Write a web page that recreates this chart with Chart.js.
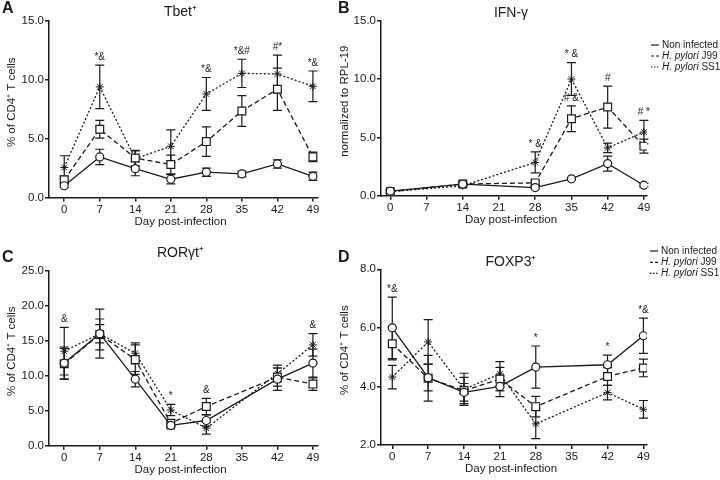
<!DOCTYPE html>
<html>
<head>
<meta charset="utf-8">
<script src="https://cdn.jsdelivr.net/npm/chart.js@4.4.1/dist/chart.umd.min.js"></script>
<style>
  body { margin: 0; background: #fff; width: 720px; height: 480px; position: relative; overflow: hidden; }
  canvas { position: absolute; }
</style>
</head>
<body>
<canvas id="chartA" style="left:0;top:0" width="360" height="240"></canvas>
<canvas id="chartB" style="left:330px;top:0" width="390" height="240"></canvas>
<canvas id="chartC" style="left:0;top:240px" width="360" height="240"></canvas>
<canvas id="chartD" style="left:330px;top:240px" width="390" height="240"></canvas>
<script>
// Data
const dayTicks = [0, 7, 14, 21, 28, 35, 42, 49];
const seriesNames = ['Non infected', 'H. pylori J99', 'H. pylori SS1'];

// A - Tbet+
const tbetDays = [0, 7, 14, 21, 28, 35, 42, 49];
const tbetNon = [1.0, 3.45, 2.45, 1.55, 2.15, 2.0, 2.85, 1.8];
const tbetNonErr = [0.15, 0.65, 0.6, 0.4, 0.35, 0.25, 0.35, 0.35];
const tbetJ99 = [1.5, 5.8, 3.35, 2.8, 4.75, 7.35, 9.2, 3.45];
const tbetJ99Err = [0.3, 0.75, 0.65, 0.8, 1.25, 1.3, 1.8, 0.4];
const tbetSS1 = [2.55, 9.4, 3.3, 4.35, 8.8, 10.55, 10.5, 9.45];
const tbetSS1Err = [1.0, 1.85, 0.65, 1.4, 1.4, 1.2, 1.6, 1.3];
const tbetTicks = [0, 5, 10, 15];
const tbetMarks = [[7, 2, '*&'], [28, 2, '*&'], [35, 2, '*&#'], [42, 2, '#*'], [49, 2, '*&']];

// B - IFN-g
const ifnDays = [0, 14, 28, 35, 42, 49];
const ifnNon = [0.4, 1.0, 0.7, 1.45, 2.75, 0.9];
const ifnNonErr = [0.1, 0.1, 0.1, 0.1, 0.65, 0.15];
const ifnJ99 = [0.35, 1.0, 1.1, 6.6, 7.6, 4.25];
const ifnJ99Err = [0.15, 0.15, 0.2, 1.1, 1.8, 0.6];
const ifnSS1 = [0.35, 0.85, 2.85, 10.0, 4.1, 5.45];
const ifnSS1Err = [0.1, 0.1, 0.9, 1.4, 0.4, 1.0];
const ifnTicks = [0, 5, 10, 15];
const ifnMarks = [[28, 2, '* &'], [35, 2, '* &'], [35, 1, '# &'], [42, 1, '#'], [49, 2, '# *']];

// C - RORgt+
const rorDays = [0, 7, 14, 21, 28, 42, 49];
const rorNon = [11.8, 16.0, 9.5, 2.9, 3.6, 9.5, 11.8];
const rorNonErr = [2.3, 1.3, 1.1, 0.5, 0.8, 1.6, 2.0];
const rorJ99 = [11.7, 15.9, 12.3, 3.2, 5.6, 9.8, 8.8];
const rorJ99Err = [2.2, 2.2, 2.1, 0.5, 1.15, 1.3, 0.9];
const rorSS1 = [13.5, 16.0, 13.2, 5.1, 2.5, 10.3, 14.4];
const rorSS1Err = [3.4, 3.5, 1.5, 0.8, 0.85, 1.2, 1.6];
const rorTicks = [0, 5, 10, 15, 20, 25];
const rorMarks = [[0, 2, '&'], [21, 2, '*'], [28, 1, '&'], [49, 2, '&']];

// D - FOXP3+
const foxDays = [0, 7, 14, 21, 28, 42, 49];
const foxNon = [6.0, 4.3, 3.8, 4.0, 4.66, 4.74, 5.73];
const foxNonErr = [1.05, 0.45, 0.3, 0.35, 0.72, 0.33, 0.6];
const foxJ99 = [5.46, 4.28, 3.86, 4.25, 3.31, 4.34, 4.63];
const foxJ99Err = [0.55, 0.78, 0.45, 0.4, 0.35, 0.3, 0.3];
const foxSS1 = [4.32, 5.52, 3.9, 4.43, 2.72, 3.79, 3.22];
const foxSS1Err = [0.4, 0.76, 0.55, 0.42, 0.5, 0.25, 0.3];
const foxTicks = [2, 4, 6, 8];
const foxMarks = [[0, 0, '*&'], [28, 0, '*'], [42, 0, '*'], [49, 0, '*&']];

// Styles
const ink = '#1a1a1a';
const family = '"Liberation Sans", Arial, sans-serif';
const styles = [
    { dash: [], point: 'circle', r: 4, bw: 1.2 },
    { dash: [5, 3], point: 'rect', r: 5.5, bw: 1.2 },
    { dash: [2, 2], point: 'star', r: 4, bw: 1 }
];

// Error bars, titles, annotations, legend
function makeDecor(p) {
    return {
        id: 'decor',
        beforeDatasetsDraw(chart) {
            const { ctx, scales: { x, y } } = chart;
            ctx.save();
            ctx.strokeStyle = ink;
            ctx.lineWidth = 1.2;
            ctx.setLineDash([]);
            chart.data.datasets.forEach(ds => {
                ds.data.forEach((pt, i) => {
                    const e = ds.err[i];
                    const px = x.getPixelForValue(pt.x);
                    const top = y.getPixelForValue(pt.y + e);
                    const bot = y.getPixelForValue(pt.y - e);
                    ctx.beginPath();
                    ctx.moveTo(px, top); ctx.lineTo(px, bot);
                    ctx.moveTo(px - 4.5, top); ctx.lineTo(px + 4.5, top);
                    ctx.moveTo(px - 4.5, bot); ctx.lineTo(px + 4.5, bot);
                    ctx.stroke();
                });
            });
            ctx.restore();
        },
        afterDraw(chart) {
            const { ctx, chartArea: a, scales: { x, y } } = chart;
            const cx = (a.left + a.right) / 2 - 3;
            ctx.save();
            ctx.fillStyle = ink;
            ctx.textBaseline = 'middle';

            // Panel letter
            ctx.font = 'bold 16px ' + family;
            ctx.textAlign = 'left';
            ctx.fillText(p.letter, p.letterX, p.letterY);

            // Panel title
            ctx.font = '14px ' + family;
            ctx.textAlign = 'center';
            ctx.fillText(p.title, cx, p.titleY);

            // Axis titles
            ctx.font = '11.5px ' + family;
            ctx.fillText('Day post-infection', cx, a.bottom + 24);
            ctx.save();
            ctx.translate(p.yTitleX, (a.top + a.bottom) / 2 - 7);
            ctx.rotate(-Math.PI / 2);
            ctx.fillText(p.yTitle, 0, 0);
            ctx.restore();

            // Significance marks
            ctx.font = '10px ' + family;
            p.marks.forEach(([day, k, text]) => {
                const i = p.days.indexOf(day);
                const top = p.values[k][i] + p.errors[k][i];
                ctx.fillText(text, x.getPixelForValue(day), y.getPixelForValue(top) - 8);
            });

            // Legend
            if (p.legend) {
                ctx.strokeStyle = ink;
                ctx.lineWidth = 1.2;
                ctx.textAlign = 'left';
                seriesNames.forEach((name, k) => {
                    const ly = p.legend.y[k];
                    ctx.setLineDash(k === 0 ? [] : (k === 1 ? [3, 2] : [1.5, 1.5]));
                    ctx.beginPath();
                    ctx.moveTo(p.legend.x, ly); ctx.lineTo(p.legend.x + 8, ly);
                    ctx.stroke();
                    ctx.setLineDash([]);
                    let tx = p.legend.x + 11;
                    if (k === 0) {
                        ctx.font = '10px ' + family;
                        ctx.fillText(name, tx, ly);
                    } else {
                        const [genus, strain] = [name.slice(0, 9), name.slice(9)];
                        ctx.font = 'italic 10px ' + family;
                        ctx.fillText(genus, tx, ly);
                        tx += ctx.measureText(genus).width;
                        ctx.font = '10px ' + family;
                        ctx.fillText(strain, tx, ly);
                    }
                });
            }
            ctx.restore();
        }
    };
}

function makePanel(id, p) {
    const datasets = styles.map((s, k) => ({
        label: seriesNames[k],
        data: p.days.map((d, i) => ({ x: d, y: p.values[k][i] })),
        err: p.errors[k],
        borderColor: ink,
        borderWidth: 1.3,
        borderDash: s.dash,
        pointStyle: s.point,
        pointRadius: s.r,
        pointBorderWidth: s.bw,
        pointBorderColor: ink,
        pointBackgroundColor: '#fff',
        tension: 0,
        fill: false
    }));
    const tickFont = { family: family, size: 11.5 };
    return new Chart(document.getElementById(id), {
        type: 'line',
        data: { datasets },
        options: {
            responsive: false,
            animation: false,
            events: [],
            layout: { padding: { left: 0, top: p.area.top, right: p.w - p.area.right, bottom: 0 } },
            plugins: { legend: { display: false }, tooltip: { enabled: false } },
            scales: {
                x: {
                    type: 'linear',
                    min: p.xMin,
                    max: p.xMax,
                    afterBuildTicks: s => { s.ticks = dayTicks.map(v => ({ value: v })); },
                    afterFit: s => { s.height = p.h - p.area.bottom; },
                    border: { color: ink, width: 1.5 },
                    grid: { drawOnChartArea: false, color: ink, lineWidth: 1.5, tickLength: 4 },
                    ticks: { color: ink, font: tickFont, padding: 1, maxRotation: 0 }
                },
                y: {
                    min: p.yTicks[0],
                    max: p.yTicks[p.yTicks.length - 1],
                    afterBuildTicks: s => { s.ticks = p.yTicks.map(v => ({ value: v })); },
                    afterFit: s => { s.width = p.area.left; },
                    border: { color: ink, width: 1.5 },
                    grid: { drawOnChartArea: false, color: ink, lineWidth: 1.5, tickLength: 4 },
                    ticks: { color: ink, font: tickFont, padding: 1, callback: v => v.toFixed(1) }
                }
            }
        },
        plugins: [makeDecor(p)]
    });
}

// Init
makePanel('chartA', {
    w: 360, h: 240, area: { left: 49, right: 318, top: 21, bottom: 197.5 },
    xMin: -3, xMax: 50, yTicks: tbetTicks, days: tbetDays,
    values: [tbetNon, tbetJ99, tbetSS1], errors: [tbetNonErr, tbetJ99Err, tbetSS1Err],
    marks: tbetMarks, letter: 'A', letterX: 2, letterY: 9,
    title: 'Tbet\u207A', titleY: 11.7, yTitle: '% of CD4\u207A T cells', yTitleX: 12
});
makePanel('chartB', {
    w: 390, h: 240, area: { left: 51, right: 317, top: 20.7, bottom: 195.7 },
    xMin: -1.8, xMax: 49.6, yTicks: ifnTicks, days: ifnDays,
    values: [ifnNon, ifnJ99, ifnSS1], errors: [ifnNonErr, ifnJ99Err, ifnSS1Err],
    marks: ifnMarks, letter: 'B', letterX: 8, letterY: 9,
    title: 'IFN-\u03B3', titleY: 13.3, yTitle: 'normalized to RPL-19', yTitleX: 15,
    legend: { x: 321, y: [45, 56, 67] }
});
makePanel('chartC', {
    w: 360, h: 240, area: { left: 49, right: 318, top: 30.7, bottom: 205.7 },
    xMin: -3, xMax: 50, yTicks: rorTicks, days: rorDays,
    values: [rorNon, rorJ99, rorSS1], errors: [rorNonErr, rorJ99Err, rorSS1Err],
    marks: rorMarks, letter: 'C', letterX: 2, letterY: 18,
    title: 'ROR\u03B3t\u207A', titleY: 12.7, yTitle: '% of CD4\u207A T cells', yTitleX: 12
});
makePanel('chartD', {
    w: 390, h: 240, area: { left: 51, right: 317, top: 29.3, bottom: 205 },
    xMin: -2.2, xMax: 49.7, yTicks: foxTicks, days: foxDays,
    values: [foxNon, foxJ99, foxSS1], errors: [foxNonErr, foxJ99Err, foxSS1Err],
    marks: foxMarks, letter: 'D', letterX: 8, letterY: 18,
    title: 'FOXP3\u207A', titleY: 21.7, yTitle: '% of CD4\u207A T cells', yTitleX: 15,
    legend: { x: 320, y: [11, 22.3, 33.3] }
});
</script>
</body>
</html>
